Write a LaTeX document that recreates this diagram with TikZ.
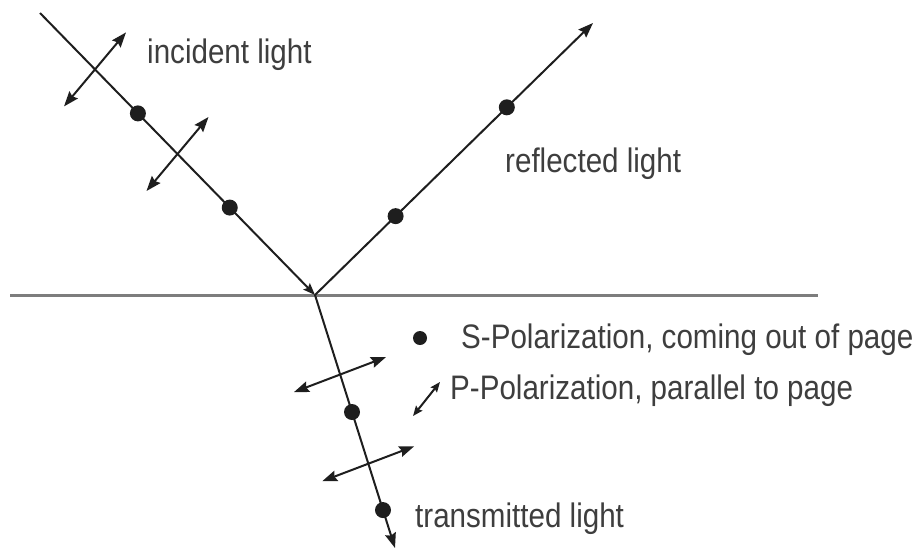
\documentclass[tikz,border=0pt]{standalone}
\usepackage{fontspec}
\setmainfont[FakeStretch=0.87]{Liberation Sans}
\usepackage{xcolor}
\usepackage{tikz}
\usetikzlibrary{arrows.meta}

\definecolor{raygray}{RGB}{30,30,30}
\definecolor{textgray}{RGB}{62,62,62}
\definecolor{surfgray}{RGB}{125,125,125}

\tikzset{
  tip/.tip={Stealth[length=15pt,width=11pt,inset=2pt]},
  ray/.style={line width=2pt, draw=raygray},
  pol/.style={line width=2pt, draw=raygray, tip-tip},
  sdot/.style={circle, fill=raygray, inner sep=0pt, minimum size=16pt},
  lbl/.style={anchor=base west, text=textgray, inner sep=0pt, font=\fontsize{34}{40}\selectfont},
}

\begin{document}
\begin{tikzpicture}[x=1pt, y=-1pt]
  \useasboundingbox (0,0) rectangle (918,550);
  % surface
  \coordinate (O) at (315,295);
  \coordinate (sl) at (10,295);
  \coordinate (sr) at (818,295);
  \draw[line width=3pt, surfgray] (sl) -- (sr);
  % rays
  \coordinate (inc) at (40,13);
  \coordinate (refl) at (593,23);
  \coordinate (trans) at (395,548);
  \draw[ray, -{Stealth[length=12pt,width=9pt,inset=2pt]}] (inc) -- (O);
  \draw[ray, -tip] (O) -- (refl);
  \draw[ray, -tip] (O) -- (trans);
  % s-polarization dots
  \path (inc) -- (O) node[sdot, pos=0.356] (i1) {} node[sdot, pos=0.69] (i2) {}
        coordinate[pos=0.2] (ic1) coordinate[pos=0.5] (ic2);
  \path (O) -- (refl) node[sdot, pos=0.29] (r1) {} node[sdot, pos=0.69] (r2) {};
  \path (O) -- (trans) node[sdot, pos=0.4625] (t1) {} node[sdot, pos=0.85] (t2) {}
        coordinate[pos=0.3125] (tc1) coordinate[pos=0.665] (tc2);
  % p-polarization arrows
  \draw[pol] ([shift={(-31,37)}]ic1) -- ([shift={(31,-37)}]ic1);
  \draw[pol] ([shift={(-31,37)}]ic2) -- ([shift={(31,-37)}]ic2);
  \draw[pol] ([shift={(-46,18)}]tc1) -- ([shift={(46,-17)}]tc1);
  \draw[pol] ([shift={(-46,18)}]tc2) -- ([shift={(46,-17)}]tc2);
  % labels
  \node[lbl] (incl) at (147,63) {incident light};
  \node[lbl] (refll) at (505,172) {reflected light};
  \node[lbl] (transl) at (415,527) {transmitted light};
  % legend
  \node[sdot, minimum size=14pt] (sleg) at (420,338) {};
  \node[lbl] (stext) at (461,348) {S-Polarization, coming out of page};
  \coordinate (pa) at (413,416);
  \coordinate (pb) at (440,382);
  \draw[line width=2pt, raygray, {Stealth[length=10pt,width=8pt,inset=1.5pt]}-{Stealth[length=10pt,width=8pt,inset=1.5pt]}] (pa) -- (pb);
  \node[lbl] (ptext) at (450,399) {P-Polarization, parallel to page};
\end{tikzpicture}
\end{document}
